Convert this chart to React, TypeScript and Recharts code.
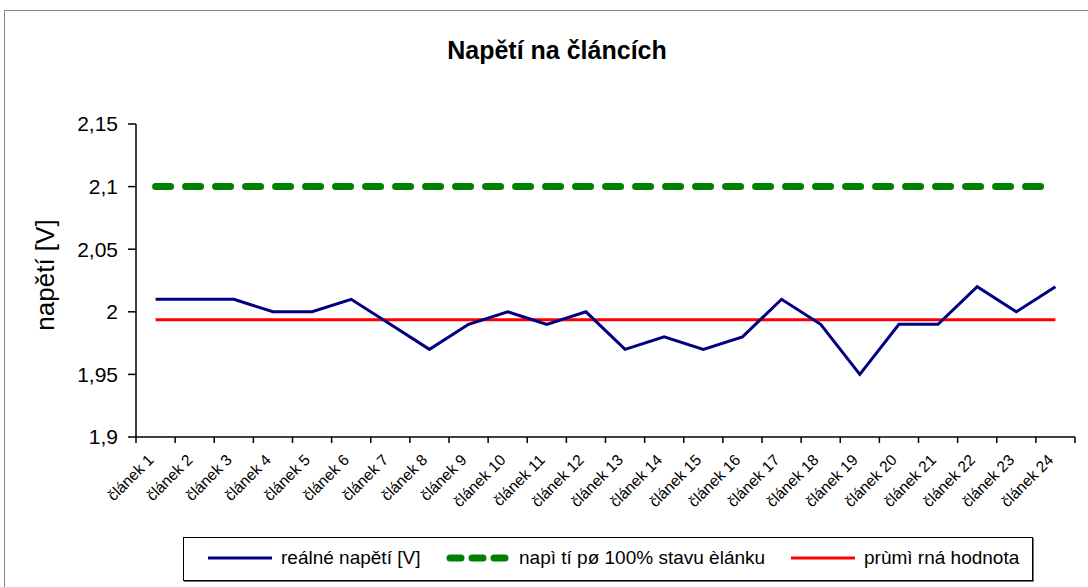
import { ComposedChart, XAxis, YAxis, Line } from "recharts"

const categories = [
  "článek 1", "článek 2", "článek 3", "článek 4", "článek 5", "článek 6",
  "článek 7", "článek 8", "článek 9", "článek 10", "článek 11", "článek 12",
  "článek 13", "článek 14", "článek 15", "článek 16", "článek 17", "článek 18",
  "článek 19", "článek 20", "článek 21", "článek 22", "článek 23", "článek 24",
]

const realVoltage = [
  2.01, 2.01, 2.01, 2.0, 2.0, 2.01, 1.99, 1.97, 1.99, 2.0, 1.99, 2.0,
  1.97, 1.98, 1.97, 1.98, 2.01, 1.99, 1.95, 1.99, 1.99, 2.02, 2.0, 2.02,
]

const fullChargeVoltage = [
  2.1, 2.1, 2.1, 2.1, 2.1, 2.1, 2.1, 2.1, 2.1, 2.1, 2.1, 2.1,
  2.1, 2.1, 2.1, 2.1, 2.1, 2.1, 2.1, 2.1, 2.1, 2.1, 2.1, 2.1,
]

const averageVoltage = [
  1.99375, 1.99375, 1.99375, 1.99375, 1.99375, 1.99375, 1.99375, 1.99375,
  1.99375, 1.99375, 1.99375, 1.99375, 1.99375, 1.99375, 1.99375, 1.99375,
  1.99375, 1.99375, 1.99375, 1.99375, 1.99375, 1.99375, 1.99375, 1.99375,
]

const yTicks = [1.9, 1.95, 2, 2.05, 2.1, 2.15]

const seriesNames = ["reálné napětí [V]", "napì tí pø 100% stavu èlánku", "prùmì rná hodnota"]

const FONT = "'Liberation Sans', Arial, sans-serif"

const chartData = categories.map((name, i) => ({
  x: i + 1,
  name,
  real: realVoltage[i],
  full: fullChargeVoltage[i],
  avg: averageVoltage[i],
}))

// tick marks sit between categories, like in Excel; labels go half a band to the right
const boundaryTicks = Array.from({ length: categories.length + 1 }, (_, i) => i + 0.5)

const formatY = (v: number) => String(Number(v.toFixed(2))).replace(".", ",")

const CategoryTick = (props: any) => {
  const { x, y, payload, width } = props
  const label = categories[Math.round(payload.value + 0.5) - 1]
  if (!label) return <g />
  const cx = x + width / categories.length / 2 - 1
  const cy = y + 16
  return (
    <text
      x={cx}
      y={cy}
      transform={`rotate(-45, ${cx}, ${cy})`}
      textAnchor="end"
      fontSize={15.5}
      fontFamily={FONT}
      fill="#000"
    >
      {label}
    </text>
  )
}

const LegendBox = () => (
  <div
    style={{
      position: "absolute",
      left: 183,
      top: 537,
      width: 848,
      height: 42,
      border: "1px solid #000",
      boxShadow: "1px 1px 0 #777",
      background: "#fff",
      fontFamily: FONT,
      fontSize: 19,
      color: "#000",
    }}
  >
    {[
      { left: 24, color: "#000080", dash: undefined as string | undefined, width: 3, text: seriesNames[0] },
      { left: 262, color: "#008000", dash: "11 11", width: 7, text: seriesNames[1] },
      { left: 607, color: "#ff0000", dash: undefined, width: 3, text: seriesNames[2] },
    ].map((item) => (
      <div key={item.text} style={{ position: "absolute", left: item.left, top: 9, display: "flex", alignItems: "center", whiteSpace: "nowrap" }}>
        <svg width={64} height={22}>
          <line
            x1={item.dash ? 4 : 0}
            y1={11}
            x2={64}
            y2={11}
            stroke={item.color}
            strokeWidth={item.width}
            strokeDasharray={item.dash}
            strokeLinecap={item.dash ? "round" : "butt"}
          />
        </svg>
        <span style={{ marginLeft: 9 }}>{item.text}</span>
      </div>
    ))}
  </div>
)

export default function App() {
  return (
    <div style={{ position: "absolute", left: 0, top: 0, width: 1088, height: 587, background: "#fff", overflow: "hidden" }}>
      <div style={{ position: "absolute", left: 4, top: 10, width: 1200, height: 700, border: "1px solid #8a8a8a" }} />
      <div
        style={{
          position: "absolute",
          left: 0,
          top: 36,
          width: 1114,
          textAlign: "center",
          fontFamily: FONT,
          fontWeight: "bold",
          fontSize: 25,
          color: "#000",
        }}
      >
        Napětí na článcích
      </div>
      <div
        style={{
          position: "absolute",
          left: 45,
          top: 275,
          transform: "translate(-50%, -50%) rotate(-90deg)",
          fontFamily: FONT,
          fontSize: 26,
          whiteSpace: "nowrap",
          color: "#000",
        }}
      >
        napětí [V]
      </div>
      <div style={{ position: "absolute", left: 0, top: 0 }}>
        <ComposedChart width={1088} height={587} data={chartData} margin={{ top: 124, right: 13, left: 0, bottom: 70 }}>
          <XAxis
            type="number"
            dataKey="x"
            domain={[0.5, 24.5]}
            allowDataOverflow
            ticks={boundaryTicks}
            interval={0}
            tickSize={6}
            height={80}
            stroke="#000"
            strokeWidth={1.5}
            tick={<CategoryTick />}
          />
          <YAxis
            type="number"
            domain={[1.9, 2.15]}
            ticks={yTicks}
            interval={0}
            allowDataOverflow
            width={136}
            tickSize={8}
            tickMargin={10}
            tickFormatter={formatY}
            tick={{ fill: "#000", fontSize: 21, fontFamily: FONT }}
            stroke="#000"
            strokeWidth={1.5}
          />
          <Line
            dataKey="full"
            name={seriesNames[1]}
            stroke="#008000"
            strokeWidth={7}
            strokeDasharray="15 15"
            strokeLinecap="round"
            dot={false}
            isAnimationActive={false}
          />
          <Line
            dataKey="avg"
            name={seriesNames[2]}
            stroke="#ff0000"
            strokeWidth={3}
            dot={false}
            isAnimationActive={false}
          />
          <Line
            dataKey="real"
            name={seriesNames[0]}
            stroke="#000080"
            strokeWidth={3}
            dot={false}
            isAnimationActive={false}
          />
        </ComposedChart>
      </div>
      <LegendBox />
    </div>
  )
}
